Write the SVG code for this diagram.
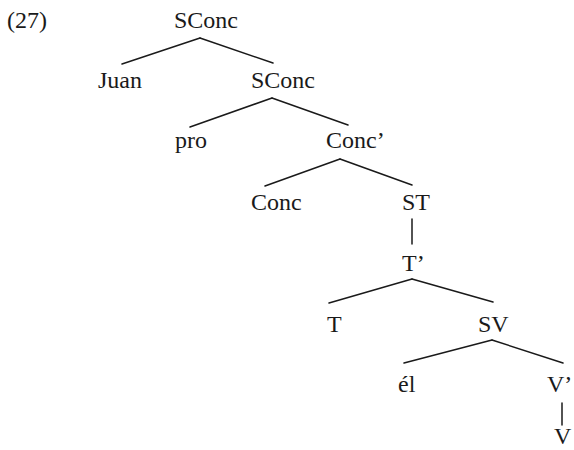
<svg xmlns="http://www.w3.org/2000/svg" width="574" height="450" viewBox="0 0 574 450">
<style>
text{font-family:"Liberation Serif","Times New Roman",serif;font-size:24px;fill:#1a1a1a}
.e{stroke:#1a1a1a;stroke-width:1.5;fill:none;stroke-linecap:round}
</style>
<rect width="574" height="450" fill="#ffffff"/>
<text id="label27" x="7" y="28">(27)</text>
<g id="edges">
<line class="e" x1="200" y1="38" x2="122" y2="64"/>
<line class="e" x1="200" y1="38" x2="273" y2="63"/>
<line class="e" x1="272" y1="98" x2="190" y2="127"/>
<line class="e" x1="272" y1="98" x2="348" y2="125"/>
<line class="e" x1="340" y1="159" x2="265" y2="186"/>
<line class="e" x1="340" y1="159" x2="412" y2="185"/>
<line class="e" x1="412" y1="219" x2="412" y2="244"/>
<line class="e" x1="412" y1="279" x2="329" y2="303"/>
<line class="e" x1="412" y1="279" x2="493" y2="302"/>
<line class="e" x1="492" y1="340" x2="404" y2="363"/>
<line class="e" x1="492" y1="340" x2="563" y2="363"/>
<line class="e" x1="562" y1="403" x2="562" y2="425"/>
</g>
<g id="n_sconc1"><text x="174" y="28">SConc</text></g>
<g id="n_juan"><text x="98" y="88">Juan</text></g>
<g id="n_sconc2"><text x="251" y="88">SConc</text></g>
<g id="n_pro"><text x="175" y="148">pro</text></g>
<g id="n_concbar"><text x="326" y="148">Conc’</text></g>
<g id="n_conc"><text x="251" y="210">Conc</text></g>
<g id="n_st"><text x="402" y="210">ST</text></g>
<g id="n_tbar"><text x="402" y="271">T’</text></g>
<g id="n_t"><text x="327" y="332">T</text></g>
<g id="n_sv"><text x="478" y="332">SV</text></g>
<g id="n_el"><text x="398" y="392">él</text></g>
<g id="n_vbar"><text x="547" y="392">V’</text></g>
<g id="n_v"><text x="554" y="444">V</text></g>
</svg>
